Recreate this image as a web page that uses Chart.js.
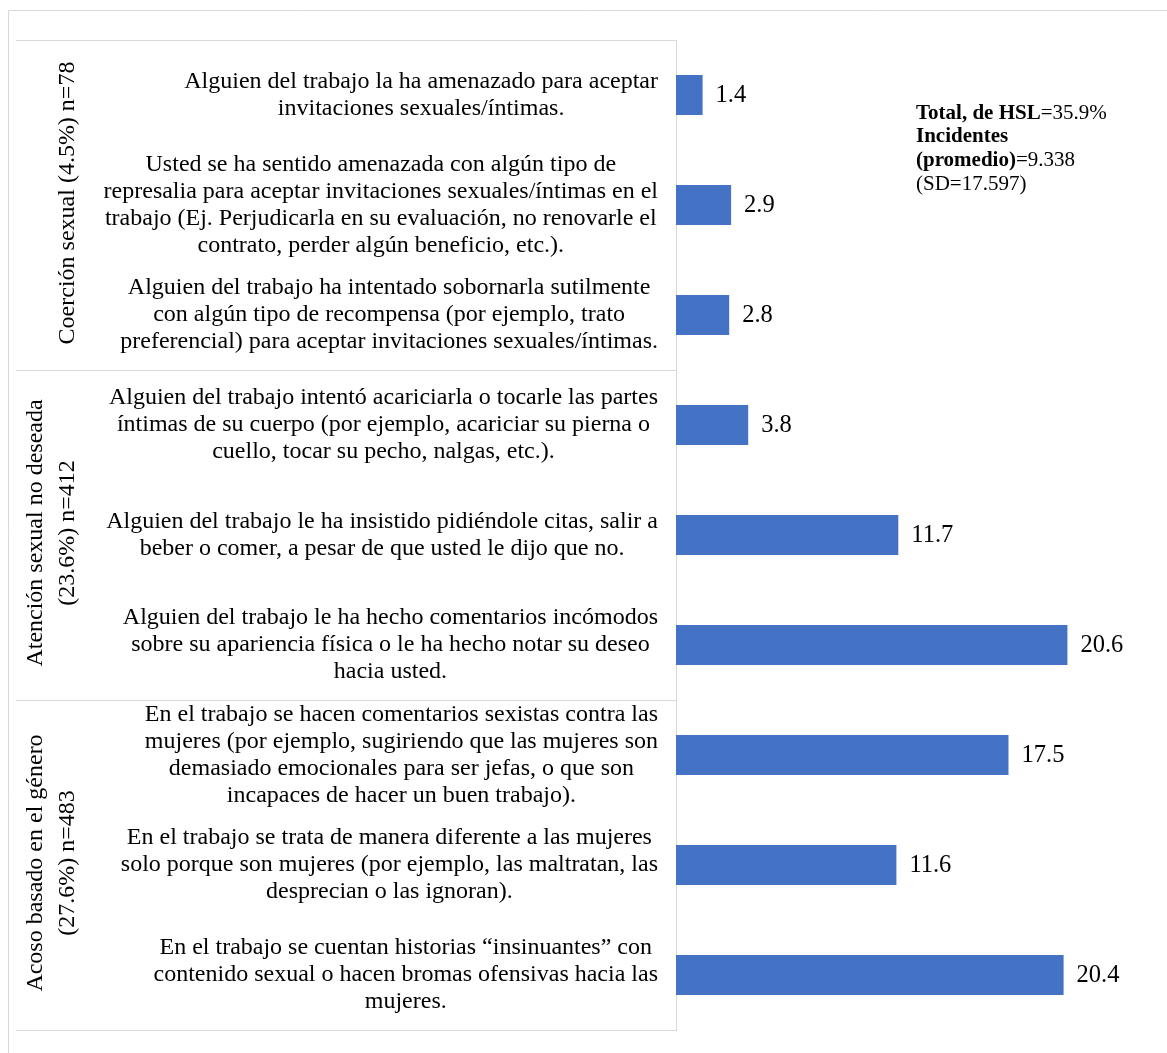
<!DOCTYPE html>
<html>
<head>
<meta charset="utf-8">
<script src="https://cdn.jsdelivr.net/npm/chart.js@4/dist/chart.umd.min.js"></script>
<style>
  html, body { margin: 0; padding: 0; background: #ffffff; }
  #wrap { width: 1167px; height: 1053px; position: relative; }
</style>
</head>
<body>
<div id="wrap"><canvas id="chart" width="1167" height="1053"></canvas></div>
<script>
// Survey items (wrapped lines), one per bar, top to bottom
const items = [
  ["Alguien del trabajo la ha amenazado para aceptar", "invitaciones sexuales/íntimas."],
  ["Usted se ha sentido amenazada con algún tipo de", "represalia para aceptar invitaciones sexuales/íntimas en el", "trabajo (Ej. Perjudicarla en su evaluación, no renovarle el", "contrato, perder algún beneficio, etc.)."],
  ["Alguien del trabajo ha intentado sobornarla sutilmente", "con algún tipo de recompensa (por ejemplo, trato", "preferencial) para aceptar invitaciones sexuales/íntimas."],
  ["Alguien del trabajo intentó acariciarla o tocarle las partes", "íntimas de su cuerpo (por ejemplo, acariciar su pierna o", "cuello, tocar su pecho, nalgas, etc.)."],
  ["Alguien del trabajo le ha insistido pidiéndole citas, salir a", "beber o comer, a pesar de que usted le dijo que no."],
  ["Alguien del trabajo le ha hecho comentarios incómodos", "sobre su apariencia física o le ha hecho notar su deseo", "hacia usted."],
  ["En el trabajo se hacen comentarios sexistas contra las", "mujeres (por ejemplo, sugiriendo que las mujeres son", "demasiado emocionales para ser jefas, o que son", "incapaces de hacer un buen trabajo)."],
  ["En el trabajo se trata de manera diferente a las mujeres", "solo porque son mujeres (por ejemplo, las maltratan, las", "desprecian o las ignoran)."],
  ["En el trabajo se cuentan historias “insinuantes” con", "contenido sexual o hacen bromas ofensivas hacia las", "mujeres."]
];

// Percentage of respondents per item
const values = [1.4, 2.9, 2.8, 3.8, 11.7, 20.6, 17.5, 11.6, 20.4];

// Dimension groups: name lines and how many items each covers
const groupNames = [
  ["Coerción sexual (4.5%) n=78"],
  ["Atención sexual no deseada", "(23.6%) n=412"],
  ["Acoso basado en el género", "(27.6%) n=483"]
];
const groupSizes = [3, 3, 3];

// Summary note: each line is a list of [text, bold] runs
const noteLines = [
  [["Total, de HSL", true], ["=35.9%", false]],
  [["Incidentes", true]],
  [["(promedio)", true], ["=9.338", false]],
  [["(SD=17.597)", false]]
];

const SERIF = '"Liberation Serif", "Times New Roman", serif';
const LINE_GRAY = '#d9d9d9';
const BAR_BLUE = '#4472C4';

const decorations = {
  id: 'decorations',
  afterDraw(chart) {
    const ctx = chart.ctx;
    const y = chart.scales.y;
    const x = chart.scales.x;
    const area = chart.chartArea;
    const step = y.getPixelForValue(1) - y.getPixelForValue(0);
    const half = step / 2;

    ctx.save();

    // outer frame (left and top edges)
    ctx.strokeStyle = LINE_GRAY;
    ctx.lineWidth = 1;
    ctx.beginPath();
    ctx.moveTo(8.5, 1053);
    ctx.lineTo(8.5, 10.5);
    ctx.lineTo(1167, 10.5);
    ctx.stroke();

    // group separators in the label column
    const left = 16;
    let idx = 0;
    const bounds = [y.getPixelForValue(0) - half];
    groupSizes.forEach(n => {
      idx += n;
      bounds.push(y.getPixelForValue(idx - 1) + half);
    });
    ctx.beginPath();
    bounds.forEach(b => {
      const yy = Math.round(b) + 0.5;
      ctx.moveTo(left, yy);
      ctx.lineTo(area.left, yy);
    });
    ctx.stroke();

    // item labels: block right-aligned to the axis, lines centred in the block
    ctx.fillStyle = '#000000';
    ctx.font = '24px ' + SERIF;
    ctx.textBaseline = 'middle';
    ctx.textAlign = 'center';
    const lh = 27;
    const blockRight = 658;
    items.forEach((lines, i) => {
      const cy = y.getPixelForValue(i);
      const w = Math.max(...lines.map(l => ctx.measureText(l).width));
      const cx = blockRight - w / 2;
      const y0 = cy - (lines.length - 1) * lh / 2;
      lines.forEach((l, k) => ctx.fillText(l, cx, y0 + k * lh));
    });

    // value labels at the bar ends
    ctx.font = '24.5px ' + SERIF;
    ctx.textAlign = 'left';
    values.forEach((v, i) => {
      ctx.fillText(v.toFixed(1), x.getPixelForValue(v) + 13, y.getPixelForValue(i) + 1);
    });

    // rotated group names
    ctx.font = '24px ' + SERIF;
    idx = 0;
    groupNames.forEach((lines, g) => {
      const top = y.getPixelForValue(idx) - half;
      idx += groupSizes[g];
      const bottom = y.getPixelForValue(idx - 1) + half;
      const cy = (top + bottom) / 2 - 2;
      ctx.save();
      ctx.translate(0, cy);
      ctx.rotate(-Math.PI / 2);
      ctx.textAlign = 'center';
      const n = lines.length;
      lines.forEach((l, k) => {
        const xx = 68 - (n - 1 - k) * 32;
        ctx.fillText(l, 0, xx);
      });
      ctx.restore();
    });

    // summary note
    ctx.textAlign = 'left';
    ctx.textBaseline = 'alphabetic';
    let ny = 118.5;
    noteLines.forEach(runs => {
      let nx = 916;
      runs.forEach(([t, bold]) => {
        ctx.font = (bold ? 'bold ' : '') + '21px ' + SERIF;
        ctx.fillText(t, nx, ny);
        nx += ctx.measureText(t).width;
      });
      ny += 23.8;
    });

    ctx.restore();
  }
};

new Chart(document.getElementById('chart'), {
  type: 'bar',
  data: {
    labels: items.map(l => l.join(' ')),
    datasets: [{
      data: values,
      backgroundColor: BAR_BLUE,
      borderWidth: 0,
      barPercentage: 0.364,
      categoryPercentage: 1
    }]
  },
  options: {
    indexAxis: 'y',
    responsive: false,
    devicePixelRatio: 1,
    animation: false,
    layout: { padding: { top: 40, bottom: 23, right: 16, left: 0 } },
    plugins: {
      legend: { display: false },
      tooltip: { enabled: false }
    },
    scales: {
      x: { display: false, min: 0, max: 25 },
      y: {
        display: true,
        ticks: { display: false },
        grid: { display: false, drawTicks: false },
        border: { display: true, color: LINE_GRAY, width: 1 },
        afterFit(scale) { scale.width = 676; }
      }
    }
  },
  plugins: [decorations]
});
</script>
</body>
</html>
